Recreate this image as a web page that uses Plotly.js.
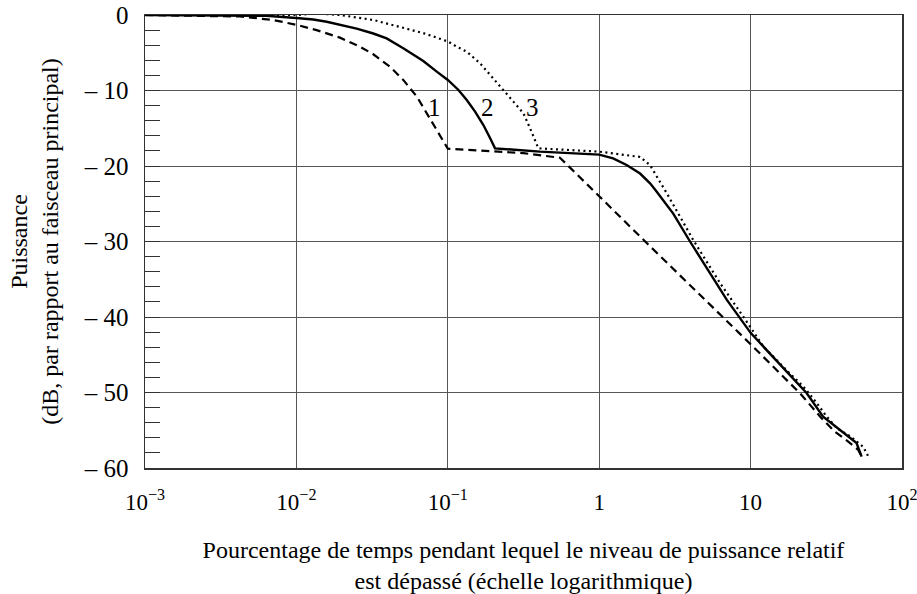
<!DOCTYPE html>
<html>
<head>
<meta charset="utf-8">
<script src="https://cdn.plot.ly/plotly-3.0.1.min.js"></script>
<style>html,body{margin:0;padding:0;background:#fff;}#chart{width:917px;height:594px;}</style>
</head>
<body>
<div id="chart"></div>
<script>
// Curve 1 (dashed)
const x1 = [0.001, 0.00316, 0.00424, 0.00703, 0.01, 0.0136, 0.0194, 0.0263, 0.0322, 0.0415, 0.0508, 0.0624, 0.0762, 0.0912, 0.1, 0.316, 0.55, 1, 2.06, 10, 14.86, 21.18, 29.44, 36.06, 44.16, 51.4, 54.2];
const y1 = [0, -0.1, -0.2, -0.66, -1.3, -2.0, -3.0, -4.2, -5.2, -6.85, -8.6, -10.8, -13.8, -16.5, -17.7, -18.3, -18.9, -24.0, -30.2, -43.6, -47.1, -50.1, -53.4, -55.2, -56.5, -57.6, -58.5];
// Curve 2 (solid)
const x2 = [0.001, 0.00631, 0.01, 0.01294, 0.01585, 0.01941, 0.025, 0.03221, 0.03945, 0.0508, 0.06887, 0.08453, 0.1, 0.1172, 0.1334, 0.1514, 0.1718, 0.1901, 0.2051, 0.4064, 1, 1.236, 1.517, 1.862, 2.168, 2.399, 3.083, 3.981, 5.395, 6.95, 10, 14.13, 20.18, 23.5, 30.13, 38.9, 50.1, 54.1];
const y2 = [0, -0.1, -0.4, -0.6, -0.9, -1.3, -1.8, -2.45, -3.1, -4.4, -6.1, -7.5, -8.6, -9.9, -11.26, -12.8, -14.57, -16.3, -17.66, -18.1, -18.5, -19.0, -19.87, -21.0, -22.3, -23.4, -26.3, -30.0, -34.2, -37.7, -42.1, -45.3, -48.6, -50.1, -53.2, -55.0, -56.7, -58.5];
// Curve 3 (dotted)
const x3 = [0.001, 0.01, 0.0136, 0.01941, 0.03221, 0.0483, 0.06887, 0.1, 0.1146, 0.1334, 0.1633, 0.1995, 0.2328, 0.271, 0.3155, 0.358, 0.3963, 1, 1.862, 2.168, 2.793, 4.178, 6.281, 9.12, 12.13, 18.2, 22.28, 27.35, 31.84, 36.98, 45.39, 55.46, 59.98];
const y3 = [0, 0, 0.2, 0, -0.66, -1.55, -2.4, -3.5, -4.2, -4.86, -6.4, -8.4, -9.93, -11.5, -13.0, -15.5, -17.66, -18.1, -18.8, -19.9, -23.6, -29.8, -35.5, -40.2, -43.9, -47.5, -49.2, -51.4, -53.2, -54.7, -55.8, -57.2, -58.5];

const xTickVals = [0.001, 0.01, 0.1, 1, 10, 100];
const xTickText = ['10<sup>−3</sup>', '10<sup>−2</sup>', '10<sup>−1</sup>', '1', '10', '10<sup>2</sup>'];
const yTickVals = [0, -10, -20, -30, -40, -50, -60];
const yTickText = ['0', '– 10', '– 20', '– 30', '– 40', '– 50', '– 60'];
const curveLabels = ['1', '2', '3'];
const curveLabelX = [0.082, 0.184, 0.36];
const curveLabelY = [-12.2, -12.2, -12.2];

const FONT = 'Liberation Serif';

const traces = [
  {x: x1, y: y1, mode: 'lines', line: {color: '#000', width: 2.2, dash: '8px,5px'}, hoverinfo: 'skip'},
  {x: x2, y: y2, mode: 'lines', line: {color: '#000', width: 2.4}, hoverinfo: 'skip'},
  {x: x3, y: y3, mode: 'lines', line: {color: '#000', width: 2.2, dash: '2px,3.5px'}, hoverinfo: 'skip'}
];

const annotations = curveLabels.map((t, i) => ({
  x: Math.log10(curveLabelX[i]), y: curveLabelY[i], xref: 'x', yref: 'y',
  text: t, showarrow: false, font: {family: FONT, size: 25, color: '#000'}
}));

const layout = {
  width: 917, height: 594,
  margin: {l: 145, r: 15, t: 15, b: 126},
  paper_bgcolor: '#fff', plot_bgcolor: '#fff',
  showlegend: false,
  font: {family: FONT, color: '#000'},
  xaxis: {
    type: 'log', range: [-3, 2],
    tickvals: xTickVals, ticktext: xTickText,
    tickfont: {family: FONT, size: 23, color: '#000'},
    ticks: '', ticklabelstandoff: 13, ticklabeloverflow: 'allow',
    showgrid: true, gridcolor: '#555', gridwidth: 1,
    showline: true, linecolor: '#333', linewidth: 1.5, mirror: true,
    zeroline: false,
    title: {text: 'Pourcentage de temps pendant lequel le niveau de puissance relatif<br>est dépassé (échelle logarithmique)', font: {family: FONT, size: 24, color: '#000'}, standoff: 30}
  },
  yaxis: {
    range: [-60, 0],
    tickvals: yTickVals, ticktext: yTickText,
    tickfont: {family: FONT, size: 25, color: '#000'},
    ticks: 'inside', ticklen: 15, tickcolor: '#333', tickwidth: 1,
    ticklabelstandoff: 10,
    minor: {dtick: 2, tick0: 0, ticks: 'inside', ticklen: 15, tickcolor: '#333', tickwidth: 1, showgrid: false},
    showgrid: true, gridcolor: '#555', gridwidth: 1,
    showline: true, linecolor: '#333', linewidth: 1.5, mirror: true,
    zeroline: false,
    title: {text: 'Puissance<br>(dB, par rapport au faisceau principal)', font: {family: FONT, size: 24, color: '#000'}, standoff: 18}
  },
  annotations: annotations
};

Plotly.newPlot('chart', traces, layout, {staticPlot: true, displayModeBar: false});
</script>
</body>
</html>
